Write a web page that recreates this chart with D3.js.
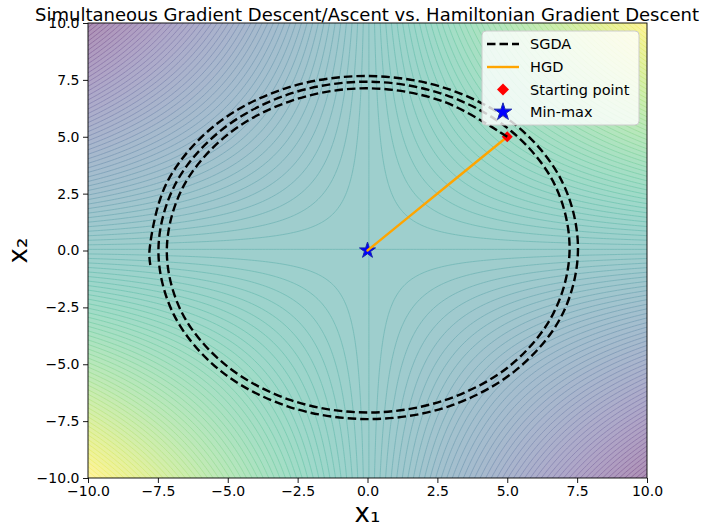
<!DOCTYPE html>
<html><head><meta charset="utf-8">
<script src="https://cdn.jsdelivr.net/npm/d3@7"></script>
<style>body{margin:0;background:#fff;} text{font-family:"DejaVu Sans",sans-serif;fill:#000;}</style>
</head><body><svg id="chart" width="702" height="529"></svg>
<script>
// ---------------- data ----------------
const xTicks = [-10, -7.5, -5, -2.5, 0, 2.5, 5, 7.5, 10];
const yTicks = [-10, -7.5, -5, -2.5, 0, 2.5, 5, 7.5, 10];
const xDomain = [-10, 10];
const yDomain = [-10, 10];
// contour levels of the objective f(x1,x2) = x1*x2
const levelMin = -100, levelMax = 100, levelStep = 2;
// SGDA trajectory
const sgdaX = [5.00, 2.71, 0.00, -2.73, -5.05, -6.62, -7.18, -6.65, -5.08, -2.74, 0.00, 2.74, 5.10, 6.66, 7.23, 6.72,
  5.17, 2.83, 0.00, -2.84, -5.26, -6.90, -7.48, -6.93, -5.30, -2.86, 0.00, 2.86, 5.30, 6.95, 7.53, 6.99,
  5.38, 2.93, 0.00, -2.96, -5.48, -7.18, -7.80, -7.77];
const sgdaY = [5.00, 6.55, 7.13, 6.58, 5.05, 2.74, 0.00, -2.71, -5.03, -6.58, -7.12, -6.59, -5.06, -2.74, 0.02, 2.84,
  5.22, 6.82, 7.42, 6.86, 5.26, 2.86, 0.00, -2.82, -5.25, -6.85, -7.41, -6.87, -5.27, -2.86, 0.03, 2.96,
  5.44, 7.08, 7.67, 7.12, 5.48, 2.98, 0.00, -0.64];
// HGD trajectory
const hgdX = [5.0, 3.0, 1.5, 0.5, 0.0];
const hgdY = [5.0, 3.0, 1.5, 0.5, 0.0];
const startPoint = [5, 5];
const minMaxPoint = [0, 0];
const legendLabels = ["SGDA", "HGD", "Starting point", "Min-max"];
const titleText = "Simultaneous Gradient Descent/Ascent vs. Hamiltonian Gradient Descent";

// ---------------- layout ----------------
const svg = d3.select("#chart");
const L = 88, R = 647, T = 23, B = 478;
const x = d3.scaleLinear().domain(xDomain).range([L, R]);
const y = d3.scaleLinear().domain(yDomain).range([B, T]);

svg.append("defs").append("clipPath").attr("id", "clip")
  .append("rect").attr("x", L).attr("y", T).attr("width", R - L).attr("height", B - T);

// ---------------- contour field ----------------
const f = (a, b) => a * b;
const g0 = -11, step = 0.1, n = 221;
const values = new Array(n * n);
for (let j = 0; j < n; j++) for (let i = 0; i < n; i++) values[j * n + i] = f(g0 + i * step, g0 + j * step);
const thresholds = d3.range(levelMin, levelMax, levelStep);
const contours = d3.contours().size([n, n]).thresholds(thresholds)(values);
const proj = d3.geoTransform({ point(px, py) { this.stream.point(x(g0 + px * step), y(g0 + py * step)); } });
const path = d3.geoPath(proj);
const norm = v => (v - levelMin) / (levelMax - levelMin);

const plot = svg.append("g").attr("clip-path", "url(#clip)");
const fillG = plot.append("g").attr("opacity", 0.43);
fillG.append("rect").attr("x", L).attr("y", T).attr("width", R - L).attr("height", B - T)
  .attr("fill", d3.interpolateViridis(0));
fillG.selectAll("path").data(contours).join("path")
  .attr("d", path)
  .attr("fill", d => d3.interpolateViridis(norm(d.value + levelStep / 2)));
const lineG = plot.append("g").attr("opacity", 0.35);
lineG.selectAll("path").data(contours.filter(d => d.value > levelMin)).join("path")
  .attr("d", path)
  .attr("fill", "none")
  .attr("stroke", d => d3.interpolateViridis(norm(d.value)))
  .attr("stroke-width", 0.8);

// ---------------- trajectories ----------------
const line = d3.line().x(d => x(d[0])).y(d => y(d[1])).curve(d3.curveCatmullRom);
const lineStraight = d3.line().x(d => x(d[0])).y(d => y(d[1]));

// min-max star
const star = d3.symbol().type(d3.symbolStar).size(80);
plot.append("path").attr("d", star())
  .attr("transform", `translate(${x(minMaxPoint[0])},${y(minMaxPoint[1])})`)
  .attr("fill", "#0000ff").attr("stroke", "#1a2aa8").attr("stroke-width", 1);

plot.append("path").datum(hgdX.map((v, i) => [v, hgdY[i]]))
  .attr("d", lineStraight).attr("fill", "none").attr("stroke", "#ffa500")
  .attr("stroke-width", 2.4).attr("stroke-linecap", "round");

const diamond = s => `M0,${-s}L${s},0L0,${s}L${-s},0Z`;
plot.append("path").attr("d", diamond(5.5))
  .attr("transform", `translate(${x(startPoint[0])},${y(startPoint[1])})`)
  .attr("fill", "#ff0000");

plot.append("path").datum(sgdaX.map((v, i) => [v, sgdaY[i]]))
  .attr("d", line).attr("fill", "none").attr("stroke", "#000")
  .attr("stroke-width", 2.4).attr("stroke-dasharray", "8.5,4");

// ---------------- axes ----------------
const fmt = d3.format(".1f");
const fmtTick = v => fmt(v).replace("-", "\u2212");
const xAxis = svg.append("g").attr("transform", `translate(0,${B})`)
  .call(d3.axisBottom(x).tickValues(xTicks).tickFormat(fmtTick).tickSize(5).tickPadding(3.5));
const yAxis = svg.append("g").attr("transform", `translate(${L},0)`)
  .call(d3.axisLeft(y).tickValues(yTicks).tickFormat(fmtTick).tickSize(5).tickPadding(3.5));
[xAxis, yAxis].forEach(a => {
  a.selectAll("text").attr("font-size", 14).attr("font-family", "DejaVu Sans");
  a.select(".domain").remove();
  a.selectAll("line").attr("stroke", "#000").attr("stroke-width", 0.9);
});
svg.append("rect").attr("x", L).attr("y", T).attr("width", R - L).attr("height", B - T)
  .attr("fill", "none").attr("stroke", "#000").attr("stroke-width", 0.9);

svg.append("text").attr("x", 367).attr("y", 21).attr("text-anchor", "middle")
  .attr("font-size", 18).attr("textLength", 664).attr("lengthAdjust", "spacingAndGlyphs").text(titleText);
svg.append("text").attr("x", (L + R) / 2).attr("y", 522).attr("text-anchor", "middle")
  .attr("font-size", 26).text("x\u2081");
svg.append("text").attr("transform", `translate(27,${(T + B) / 2}) rotate(-90)`).attr("text-anchor", "middle")
  .attr("font-size", 26).text("x\u2082");

// ---------------- legend ----------------
const lg = svg.append("g");
lg.append("rect").attr("x", 482).attr("y", 31).attr("width", 157).attr("height", 94).attr("rx", 4)
  .attr("fill", "#fff").attr("fill-opacity", 0.8).attr("stroke", "#cccccc").attr("stroke-width", 1);
const rowY = [44, 67, 89.5, 112];
lg.append("line").attr("x1", 487).attr("x2", 519).attr("y1", rowY[0]).attr("y2", rowY[0])
  .attr("stroke", "#000").attr("stroke-width", 2.4).attr("stroke-dasharray", "8.5,4");
lg.append("line").attr("x1", 487).attr("x2", 519).attr("y1", rowY[1]).attr("y2", rowY[1])
  .attr("stroke", "#ffa500").attr("stroke-width", 2.4);
lg.append("path").attr("d", diamond(6)).attr("transform", `translate(503,${rowY[2]})`).attr("fill", "#ff0000");
lg.append("path").attr("d", d3.symbol().type(d3.symbolStar).size(95)())
  .attr("transform", `translate(503,${rowY[3]})`).attr("fill", "#0000ff").attr("stroke", "#1a2aa8").attr("stroke-width", 1);
lg.selectAll("text.lab").data(legendLabels).join("text").attr("class", "lab")
  .attr("x", 530).attr("y", (d, i) => rowY[i] + 5.2).attr("font-size", 14.5).text(d => d);
</script></body></html>
